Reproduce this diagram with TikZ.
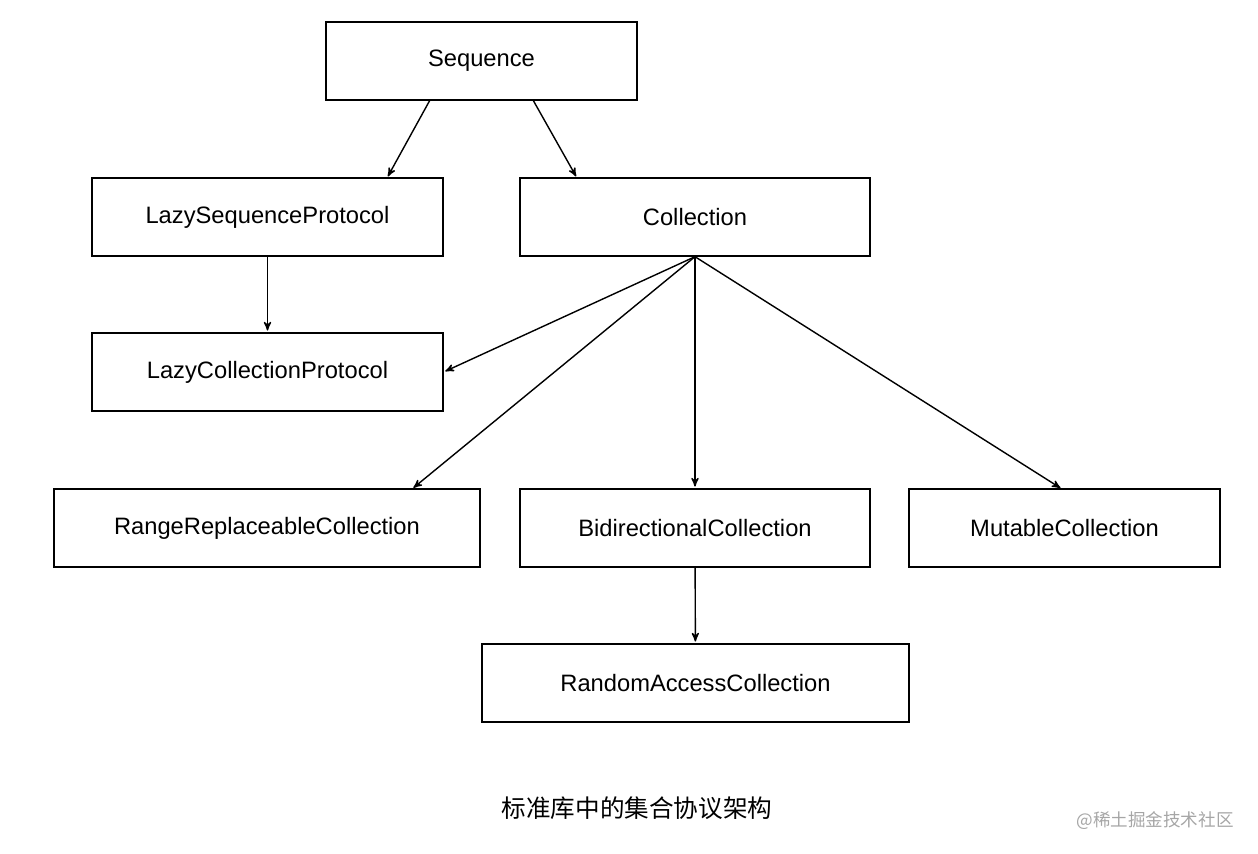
\documentclass[tikz,border=0pt]{standalone}
\usepackage{fontspec}
\setmainfont{Liberation Sans}
\newfontfamily\cjk{Noto Sans CJK SC}
\usetikzlibrary{arrows,positioning}
\tikzset{
  proto/.style = {draw, thick, minimum height=1.56cm, font=\fontsize{13.5}{16}\selectfont},
  link/.style  = {-stealth', thick, shorten >=1pt},
}
\begin{document}
\begin{tikzpicture}[x=0.02cm,y=-0.02cm]
      \useasboundingbox (0,0) rectangle (1258,854);
      %protocol boxes
      \node[proto, minimum width=6.22cm] (seq) at (481.5,61) {Sequence};
      \node[proto, minimum width=7.02cm] (lazyseq) at (267.5,217) {LazySequenceProtocol};
      \node[proto, minimum width=7.0cm] (coll) at (695,217) {Collection};
      \node[proto, minimum width=7.02cm] (lazycoll) at (267.5,372) {LazyCollectionProtocol};
      \node[proto, minimum width=8.52cm] (range) at (267,528) {RangeReplaceableCollection};
      \node[proto, minimum width=7.0cm] (bidir) at (695,528) {BidirectionalCollection};
      \node[proto, minimum width=6.22cm] (mutable) at (1064.5,528) {MutableCollection};
      \node[proto, minimum width=8.54cm] (random) at (695.5,683) {RandomAccessCollection};

      \node[font=\cjk\fontsize{14}{16}\selectfont] (caption) at (637,808) {标准库中的集合协议架构};
      \node[font=\cjk\fontsize{10}{12}\selectfont, text=gray!70] (mark) at (1155,821) {@稀土掘金技术社区};

      %arrow ends
      \coordinate (s1) at (430,100);
      \coordinate (s2) at (533,100);
      \coordinate (t1) at (387,178);
      \coordinate (t2) at (577,178);
      \coordinate (r1) at (412,489);
      \coordinate (m1) at (1062,489);

      \draw[link] (s1) -- (t1);
      \draw[link] (s2) -- (t2);
      \draw[link] (lazyseq) -- (lazycoll);
      \draw[link] (coll.south) -- (lazycoll.east);
      \draw[link] (coll.south) -- (r1);
      \draw[link] (coll.south) -- (bidir.north);
      \draw[link] (coll.south) -- (m1);
      \draw[link] (bidir) -- (random);
\end{tikzpicture}
\end{document}
